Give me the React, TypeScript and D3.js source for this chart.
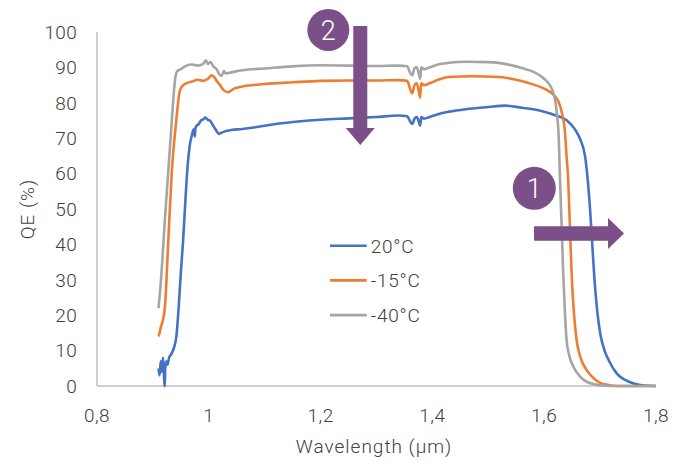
import React from "react";
import * as d3 from "d3";

// ---- Data ----
const seriesNames = ["20°C", "-15°C", "-40°C"];
const seriesColors = ["#4472C4", "#ED7D31", "#A5A5A5"];

const blueW = [0.910,0.912,0.914,0.916,0.918,0.9195,0.9205,0.9215,0.922,0.924,0.926,0.929,0.933,0.938,0.942,0.946,0.950,0.954,0.958,0.962,0.966,0.970,0.973,0.975,0.976,0.978,0.982,0.986,0.990,0.994,0.998,1.002,1.006,1.010,1.014,1.018,1.022,1.030,1.040,1.060,1.080,1.100,1.130,1.160,1.200,1.250,1.300,1.340,1.355,1.360,1.364,1.368,1.372,1.376,1.378,1.380,1.385,1.395,1.410,1.430,1.460,1.500,1.530,1.560,1.580,1.600,1.620,1.640,1.655,1.665,1.673,1.678,1.682,1.686,1.690,1.695,1.700,1.708,1.718,1.730,1.745,1.760,1.775,1.800];
const blueV = [5,3,7,4,8,5,0,0,5,7,6,8,9,11,14,22,32,41,52,62,68,71,72.5,70.5,72.8,73.5,74,75,75.3,75.8,75.2,75,74,73,72,71.2,71.5,72,72.3,72.6,73,73.5,74.2,74.7,75.2,75.6,76,76.4,76.2,74.8,74,75.5,76,74.5,73.5,76,75.5,76,76.8,77.5,78.2,78.8,79.2,78.6,78.2,77.5,76.5,75.1,72.5,69.5,65,58,50,40,30,21,15,10,6.5,3.5,1.7,0.7,0.2,0];

const orangeW = [0.910,0.912,0.914,0.917,0.9216,0.9276,0.9336,0.9413,0.9485,0.9545,0.960,0.970,0.980,0.990,1.000,1.005,1.010,1.015,1.020,1.027,1.034,1.045,1.060,1.100,1.150,1.200,1.250,1.300,1.340,1.355,1.360,1.364,1.368,1.372,1.376,1.378,1.380,1.385,1.395,1.410,1.430,1.470,1.520,1.550,1.580,1.600,1.615,1.625,1.632,1.637,1.640,1.643,1.646,1.649,1.653,1.658,1.665,1.676,1.690,1.700,1.715,1.730,1.800];
const orangeV = [14,15,16.5,18,22.4,41.2,60,74.2,83.6,85,85.5,86,86.5,86.2,87,87.8,87.2,86,85,83.5,83,84,84.6,85.3,85.8,86.2,86.3,86.3,86.4,86.2,84,82.7,85,85.5,83,81.5,85.5,85,85.5,86.5,87.3,87.5,87.3,86.5,85.2,84,82.5,80.5,77,72,65,58,45,32,21,13,8,4.5,2,0.9,0.3,0,0];

const grayW = [0.910,0.913,0.917,0.921,0.925,0.929,0.933,0.937,0.940,0.944,0.950,0.960,0.970,0.980,0.990,0.995,0.998,1.003,1.008,1.014,1.019,1.023,1.027,1.030,1.040,1.060,1.100,1.150,1.200,1.250,1.300,1.340,1.355,1.360,1.364,1.368,1.372,1.376,1.378,1.380,1.385,1.395,1.410,1.430,1.460,1.500,1.530,1.560,1.580,1.600,1.610,1.617,1.622,1.626,1.628,1.631,1.634,1.637,1.640,1.645,1.652,1.665,1.676,1.690,1.700,1.720,1.800];
const grayV = [22,27,36,46,55,64,73,82,87,89,89.5,90.5,90.8,90.5,91,92,91,91.5,90.3,89.5,88,87.6,89,88.3,88.6,89.2,89.7,90.3,90.6,90.5,90.4,90.5,90.3,88.5,87.8,89.8,90,88,86.8,90,89.5,90,90.8,91.3,91.6,91.5,91,89.8,88.8,86.8,85,82.5,78,70,60,46,32,21,13,8.5,5.5,2.5,1.2,0.5,0.2,0,0];

const xTicks = [0.8, 1.0, 1.2, 1.4, 1.6, 1.8];
const yTicks = [0, 10, 20, 30, 40, 50, 60, 70, 80, 90, 100];

// annotation anchors in data units
const badge2 = { w: 1.2138, v: 100.56, label: "2" };
const arrow2 = { w: 1.271, vFrom: 101.7, vTo: 68.1 };
const badge1 = { w: 1.5823, v: 55.85, label: "1" };
const arrow1 = { v: 43.1, wFrom: 1.5818, wTo: 1.7428 };

const W = 684, H = 461;
const M = { left: 97, right: 28, top: 32, bottom: 75 };
const FONT = "Roboto, 'DejaVu Sans', sans-serif";
const TXT = "#404040";
const PURPLE = "#7B4F87";

export default function App() {
  const x = d3.scaleLinear().domain([0.8, 1.8]).range([M.left, W - M.right]);
  const y = d3.scaleLinear().domain([0, 100]).range([H - M.bottom, M.top]);
  const line = d3
    .line<[number, number]>()
    .x((d) => x(d[0]))
    .y((d) => y(d[1]))
    .curve(d3.curveMonotoneX);

  const series = [
    { w: blueW, v: blueV },
    { w: orangeW, v: orangeV },
    { w: grayW, v: grayV },
  ];
  const fmt = (t: number) => d3.format("~g")(t).replace(".", ",");

  const x0 = M.left, x1 = W - M.right, y0 = H - M.bottom, y1 = M.top;

  const a2x = x(arrow2.w);
  const a2top = y(arrow2.vFrom);
  const a2tip = y(arrow2.vTo);
  const a2head = 17, a2sh = 7, a2hw = 14.5;
  const arrow2Path = `M${a2x - a2sh},${a2top} L${a2x + a2sh},${a2top} L${a2x + a2sh},${a2tip - a2head} L${a2x + a2hw},${a2tip - a2head} L${a2x},${a2tip} L${a2x - a2hw},${a2tip - a2head} L${a2x - a2sh},${a2tip - a2head} Z`;

  const a1y = y(arrow1.v);
  const a1l = x(arrow1.wFrom);
  const a1tip = x(arrow1.wTo);
  const a1head = 16, a1sh = 7.3, a1hw = 15.5;
  const arrow1Path = `M${a1l},${a1y - a1sh} L${a1tip - a1head},${a1y - a1sh} L${a1tip - a1head},${a1y - a1hw} L${a1tip},${a1y} L${a1tip - a1head},${a1y + a1hw} L${a1tip - a1head},${a1y + a1sh} L${a1l},${a1y + a1sh} Z`;

  return (
    <svg
      width={W}
      height={H}
      style={{ position: "absolute", left: 0, top: 0, background: "#fff" }}
      fontFamily={FONT}
      fontWeight={300}
    >
      <line x1={x0} y1={y1} x2={x0} y2={y0} stroke="#BFBFBF" strokeWidth={1.5} />
      <line x1={x0} y1={y0} x2={x1} y2={y0} stroke="#BFBFBF" strokeWidth={1.5} />

      {yTicks.map((t) => (
        <text key={t} x={x0 - 20} y={y(t)} dy="0.36em" textAnchor="end" fontSize={19} letterSpacing={0.3} fill={TXT}>
          {t}
        </text>
      ))}
      {xTicks.map((t) => (
        <text key={t} x={x(t)} y={y0 + 36} textAnchor="middle" fontSize={19} letterSpacing={0.5} fill={TXT}>
          {fmt(t)}
        </text>
      ))}
      <text x={374} y={H - 8} textAnchor="middle" fontSize={19} letterSpacing={1} fill={TXT}>
        Wavelength (µm)
      </text>
      <text
        transform={`translate(27,${(y0 + y1) / 2}) rotate(-90)`}
        textAnchor="middle"
        dy="0.35em"
        fontSize={19}
        letterSpacing={1}
        fill={TXT}
      >
        QE (%)
      </text>

      {series.map((s, i) => (
        <path
          key={i}
          d={line(s.w.map((w, j) => [w, s.v[j]] as [number, number])) || ""}
          fill="none"
          stroke={seriesColors[i]}
          strokeWidth={2.6}
          strokeLinejoin="round"
        />
      ))}

      {seriesNames.map((n, i) => (
        <g key={n} transform={`translate(330,${245.7 + i * 34.7})`}>
          <line x1={0} x2={36.7} y1={0} y2={0} stroke={seriesColors[i]} strokeWidth={2.6} />
          <text x={40.7} y={0} dy="0.36em" fontSize={19} letterSpacing={0.8} fill={TXT}>
            {n}
          </text>
        </g>
      ))}

      <path d={arrow2Path} fill={PURPLE} />
      <circle cx={x(badge2.w)} cy={y(badge2.v)} r={21} fill={PURPLE} />
      <text x={x(badge2.w)} y={y(badge2.v)} dy="0.36em" textAnchor="middle" fontSize={27} fill="#fff">
        {badge2.label}
      </text>

      <path d={arrow1Path} fill={PURPLE} />
      <circle cx={x(badge1.w)} cy={y(badge1.v)} r={21.5} fill={PURPLE} />
      <text x={x(badge1.w)} y={y(badge1.v)} dy="0.36em" textAnchor="middle" fontSize={27} fill="#fff">
        {badge1.label}
      </text>
    </svg>
  );
}
